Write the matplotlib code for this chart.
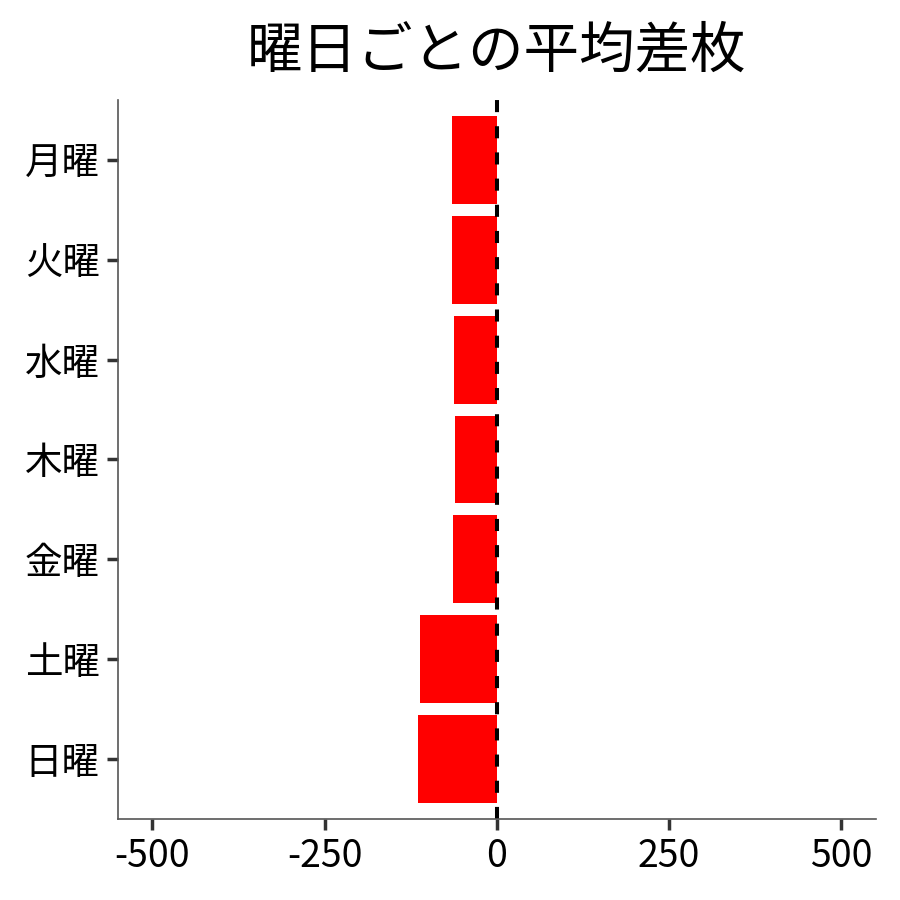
import matplotlib
matplotlib.use("Agg")
import matplotlib.pyplot as plt

plt.rcParams['font.family'] = ['Noto Sans CJK JP', 'DejaVu Sans']

# average difference per weekday
days = ["月曜", "火曜", "水曜", "木曜", "金曜", "土曜", "日曜"]
avg_diff = [-65, -65, -62, -60, -63, -111, -114]
x_ticks = [-500, -250, 0, 250, 500]

fig = plt.figure(figsize=(9, 9), dpi=100)
ax = fig.add_axes([0.131, 0.09, 0.842, 0.799])

pos = list(range(len(days)))[::-1]
ax.barh(pos, avg_diff, height=0.88, color="red")
ax.axvline(0, color="black", linestyle=(0, (3, 3.5)), linewidth=2.9)

ax.set_xlim(-550, 550)
ax.set_ylim(-0.6, len(days) - 0.4)
ax.set_yticks(pos)
ax.set_yticklabels(days)
ax.set_xticks(x_ticks)
ax.set_xticklabels([str(v) for v in x_ticks])

for side in ["top", "right"]:
    ax.spines[side].set_visible(False)
for side in ["left", "bottom"]:
    ax.spines[side].set_color("#555555")
    ax.spines[side].set_linewidth(1.2)

ax.tick_params(axis="both", labelsize=27, length=8, width=2.5, color="#333333", pad=5)
ax.set_title("曜日ごとの平均差枚", fontsize=40, pad=23)

fig.savefig("out.png", dpi=100)
